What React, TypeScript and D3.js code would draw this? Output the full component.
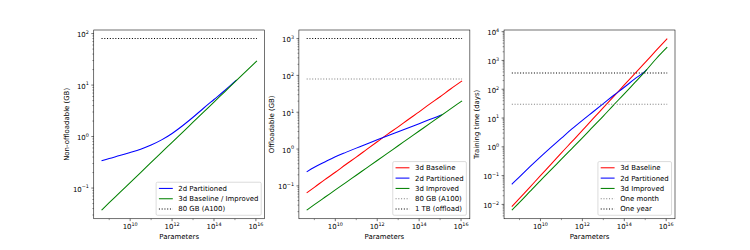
import React, { useMemo } from 'react';
import * as d3 from 'd3';

// ---------- data ----------
const params = [4.3e8, 1e9, 3.16e9, 1e10, 3.16e10, 1e11, 3.16e11, 1e12, 3.16e12, 1e13, 3.16e13, 1e14, 3.16e14, 1e15, 3.16e15, 1.12e16];
const paramsPartitioned = [4.3e8, 1e9, 3.16e9, 1e10, 3.16e10, 1e11, 3.16e11, 1e12, 3.16e12, 1e13, 3.16e13, 1e14, 3.16e14, 1e15, 1.2e15];

// Panel 1: non-offloadable memory (GB)
const nonOffPartitioned2d = [0.339, 0.376, 0.427, 0.49, 0.569, 0.684, 0.861, 1.148, 1.622, 2.371, 3.548, 5.25, 7.76, 11.75, 12.6];
const nonOffBaseline3d = [0.0372, 0.0519, 0.0813, 0.1276, 0.2, 0.314, 0.492, 0.773, 1.21, 1.9, 2.98, 4.68, 7.33, 11.5, 18.0, 29.5];

// Panel 2: offloadable memory (GB)
const offBaseline3d = [0.0646, 0.0912, 0.148, 0.234, 0.38, 0.603, 0.977, 1.58, 2.55, 4.0, 6.46, 10.2, 16.6, 26.3, 42.7, 70.8];
const offPartitioned2d = [0.24, 0.32, 0.447, 0.617, 0.813, 1.059, 1.38, 1.778, 2.291, 2.951, 3.802, 4.898, 6.31, 8.13, 8.61];
const offImproved3d = [0.0219, 0.0309, 0.049, 0.0776, 0.123, 0.195, 0.309, 0.49, 0.776, 1.23, 1.95, 3.09, 4.9, 7.76, 12.3, 20.4];

// Panel 3: training time (days)
const timeBaseline3d = [0.00832, 0.0162, 0.0398, 0.1, 0.245, 0.617, 1.51, 3.72, 9.33, 22.9, 56.2, 141, 347, 851, 2140, 5750];
const timePartitioned2d = [0.0501, 0.0912, 0.204, 0.447, 0.955, 2.0, 4.17, 8.32, 16.2, 31.6, 61.7, 117, 229, 430, 490];
const timeImproved3d = [0.00631, 0.0117, 0.0282, 0.0676, 0.158, 0.372, 0.871, 2.04, 4.9, 11.7, 28.8, 69.2, 170, 417, 1100, 2880];

// Reference levels
const a100GB = 80;
const offloadGB = 1000;
const oneMonthDays = 30;
const oneYearDays = 365;

// Tick exponents
const xTickExps = [10, 12, 14, 16];
const xMinorExps = [9, 11, 13, 15];
const yTickExps1 = [-1, 0, 1, 2];
const yTickExps2 = [-1, 0, 1, 2, 3];
const yTickExps3 = [-2, -1, 0, 1, 2, 3, 4];

// ---------- layout ----------
const W = 750, H = 250;
const FS = 10 * 50 / 72; // 10pt at 50 dpi
const LW = 1.5 * 50 / 72;
const SPINE = 0.8 * 50 / 72;
const TICK = 3.5 * 50 / 72;
const MINOR = 2 * 50 / 72;
const PADT = 3.5 * 50 / 72;
const LEFT = 0.125 * W, RIGHT = 0.9 * W, TOP = 0.12 * H, BOTTOM = 0.875 * H;
const AXW = (RIGHT - LEFT) / (3 + 2 * 0.2);
const GAP = AXW * 0.2;

const RED = '#ff0000', BLUE = '#0000ff', GREEN = '#008000', GRAY = '#808080', BLACK = '#000000';

type Series = { label: string; x: number[]; y: number[]; color: string; dotted?: boolean };

const panels: { yLabel: string; yTicks: number[]; series: Series[] }[] = [
  {
    yLabel: 'Non-offloadable (GB)',
    yTicks: yTickExps1,
    series: [
      { label: '2d Partitioned', x: paramsPartitioned, y: nonOffPartitioned2d, color: BLUE },
      { label: '3d Baseline / Improved', x: params, y: nonOffBaseline3d, color: GREEN },
      { label: '80 GB (A100)', x: [params[0], params[params.length - 1]], y: [a100GB, a100GB], color: BLACK, dotted: true },
    ],
  },
  {
    yLabel: 'Offloadable (GB)',
    yTicks: yTickExps2,
    series: [
      { label: '3d Baseline', x: params, y: offBaseline3d, color: RED },
      { label: '2d Partitioned', x: paramsPartitioned, y: offPartitioned2d, color: BLUE },
      { label: '3d Improved', x: params, y: offImproved3d, color: GREEN },
      { label: '80 GB (A100)', x: [params[0], params[params.length - 1]], y: [a100GB, a100GB], color: GRAY, dotted: true },
      { label: '1 TB (offload)', x: [params[0], params[params.length - 1]], y: [offloadGB, offloadGB], color: BLACK, dotted: true },
    ],
  },
  {
    yLabel: 'Training time (days)',
    yTicks: yTickExps3,
    series: [
      { label: '3d Baseline', x: params, y: timeBaseline3d, color: RED },
      { label: '2d Partitioned', x: paramsPartitioned, y: timePartitioned2d, color: BLUE },
      { label: '3d Improved', x: params, y: timeImproved3d, color: GREEN },
      { label: 'One month', x: [params[0], params[params.length - 1]], y: [oneMonthDays, oneMonthDays], color: GRAY, dotted: true },
      { label: 'One year', x: [params[0], params[params.length - 1]], y: [oneYearDays, oneYearDays], color: BLACK, dotted: true },
    ],
  },
];

function padLogDomain(vals: number[]): [number, number] {
  const logs = vals.map((v) => Math.log10(v));
  const lo = d3.min(logs)!, hi = d3.max(logs)!;
  const m = (hi - lo) * 0.05;
  return [Math.pow(10, lo - m), Math.pow(10, hi + m)];
}

let _ctx: CanvasRenderingContext2D | null = null;
function textWidth(s: string): number {
  if (!_ctx) {
    const c = document.createElement('canvas');
    _ctx = c.getContext('2d');
  }
  if (!_ctx) return s.length * FS * 0.6;
  _ctx.font = `${FS}px "DejaVu Sans"`;
  return _ctx.measureText(s).width;
}

const fmtExp = (e: number) => (e < 0 ? '\u2212' + Math.abs(e) : String(e));

function Pow10({ x, y, e, anchor }: { x: number; y: number; e: number; anchor: string }) {
  return (
    <text x={x} y={y} textAnchor={anchor} fontSize={FS} fill="#000">
      10
      <tspan dy={-3.1} fontSize={FS * 0.7}>{fmtExp(e)}</tspan>
    </text>
  );
}

function Panel({ index }: { index: number }) {
  const p = panels[index];
  const x0 = LEFT + index * (AXW + GAP);
  const x1 = x0 + AXW;
  const allX = p.series.flatMap((s) => s.x);
  const allY = p.series.flatMap((s) => s.y);
  const xs = d3.scaleLog().domain(padLogDomain(allX)).range([x0, x1]);
  const ys = d3.scaleLog().domain(padLogDomain(allY)).range([BOTTOM, TOP]);
  const [ylo, yhi] = ys.domain();

  const line = d3
    .line<[number, number]>()
    .x((d) => xs(d[0]))
    .y((d) => ys(d[1]))
    .curve(d3.curveMonotoneX);

  const yMinor: number[] = [];
  for (let e = Math.floor(Math.log10(ylo)); e <= Math.ceil(Math.log10(yhi)); e++) {
    for (let k = 2; k <= 9; k++) {
      const v = k * Math.pow(10, e);
      if (v >= ylo && v <= yhi) yMinor.push(v);
    }
  }

  // legend
  const pad = 0.4 * FS, hl = 2 * FS, hp = 0.8 * FS, ax = 0.5 * FS, sp = 0.5 * FS, th = 6.85;
  const maxW = d3.max(p.series, (s) => textWidth(s.label))!;
  const lw = pad * 2 + hl + hp + maxW;
  const n = p.series.length;
  const lh = n * th + (n - 1) * sp + 2 * pad;
  const lx = x1 - ax - lw;
  const ly = BOTTOM - ax - lh;

  return (
    <g>
      <defs>
        <clipPath id={`clip${index}`}>
          <rect x={x0} y={TOP} width={AXW} height={BOTTOM - TOP} />
        </clipPath>
      </defs>
      <g clipPath={`url(#clip${index})`}>
        {p.series.map((s, i) => (
          <path
            key={i}
            d={line(s.x.map((xv, j) => [xv, s.y[j]] as [number, number])) || ''}
            fill="none"
            stroke={s.color}
            strokeWidth={LW}
            strokeDasharray={s.dotted ? `${LW} ${1.65 * LW}` : undefined}
          />
        ))}
      </g>
      {/* spines */}
      <rect x={x0} y={TOP} width={AXW} height={BOTTOM - TOP} fill="none" stroke="#000" strokeWidth={SPINE} />
      {/* x ticks */}
      {xTickExps.map((e) => {
        const xp = xs(Math.pow(10, e));
        return (
          <g key={'xt' + e}>
            <line x1={xp} x2={xp} y1={BOTTOM} y2={BOTTOM + TICK} stroke="#000" strokeWidth={SPINE} />
            <Pow10 x={xp} y={BOTTOM + 10.6} e={e} anchor="middle" />
          </g>
        );
      })}
      {xMinorExps.map((e) => {
        const xp = xs(Math.pow(10, e));
        return <line key={'xm' + e} x1={xp} x2={xp} y1={BOTTOM} y2={BOTTOM + MINOR} stroke="#000" strokeWidth={0.6 * 50 / 72} />;
      })}
      {/* y ticks */}
      {p.yTicks.map((e) => {
        const yp = ys(Math.pow(10, e));
        return (
          <g key={'yt' + e}>
            <line x1={x0 - TICK} x2={x0} y1={yp} y2={yp} stroke="#000" strokeWidth={SPINE} />
            <Pow10 x={x0 - TICK - PADT} y={yp + 3.5} e={e} anchor="end" />
          </g>
        );
      })}
      {yMinor.map((v, i) => {
        const yp = ys(v);
        return <line key={'ym' + i} x1={x0 - MINOR} x2={x0} y1={yp} y2={yp} stroke="#000" strokeWidth={0.6 * 50 / 72} />;
      })}
      {/* axis labels */}
      <text x={(x0 + x1) / 2} y={239.3} textAnchor="middle" fontSize={FS} fill="#000">
        Parameters
      </text>
      <text
        transform={`translate(${x0 - 24.6},${(TOP + BOTTOM) / 2}) rotate(-90)`}
        textAnchor="middle"
        fontSize={FS}
        fill="#000"
      >
        {p.yLabel}
      </text>
      {/* legend */}
      <rect x={lx} y={ly} width={lw} height={lh} rx={0.2 * FS} ry={0.2 * FS} fill="#ffffff" fillOpacity={0.8} stroke="#cccccc" strokeWidth={50 / 72} />
      {p.series.map((s, i) => {
        const cy = ly + pad + th / 2 + i * (th + sp);
        return (
          <g key={'lg' + i}>
            <line
              x1={lx + pad}
              x2={lx + pad + hl}
              y1={cy}
              y2={cy}
              stroke={s.color}
              strokeWidth={LW}
              strokeDasharray={s.dotted ? `${LW} ${1.65 * LW}` : undefined}
            />
            <text x={lx + pad + hl + hp} y={cy + 2.4} fontSize={FS} fill="#000">
              {s.label}
            </text>
          </g>
        );
      })}
    </g>
  );
}

export default function App() {
  const idx = useMemo(() => [0, 1, 2], []);
  return (
    <svg
      width={W}
      height={H}
      viewBox={`0 0 ${W} ${H}`}
      style={{ position: 'absolute', left: 0, top: 0, background: '#fff' }}
      fontFamily="'DejaVu Sans', sans-serif"
    >
      <rect x={0} y={0} width={W} height={H} fill="#fff" />
      {idx.map((i) => (
        <Panel key={i} index={i} />
      ))}
    </svg>
  );
}
